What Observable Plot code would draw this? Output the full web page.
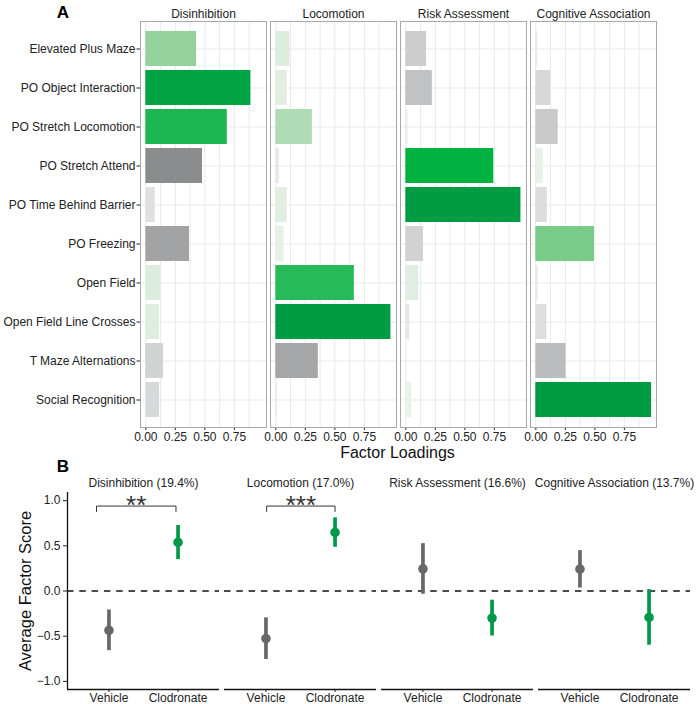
<!DOCTYPE html>
<html><head><meta charset="utf-8">
<script src="https://cdn.jsdelivr.net/npm/d3@7"></script>
<script src="https://cdn.jsdelivr.net/npm/@observablehq/plot@0.6"></script>
<style>
body{margin:0;background:#fff;font-family:"Liberation Sans",Arial,Helvetica,sans-serif;}
#chart{position:relative;width:700px;height:704px;overflow:hidden;background:#fff;}
#chart svg{overflow:visible;display:block;position:absolute;left:0;}
</style></head><body><div id="chart"></div>
<script>
// ---------- data ----------
const factors = ["Disinhibition", "Locomotion", "Risk Assessment", "Cognitive Association"];
const variancePct = [19.4, 17.0, 16.6, 13.7];
const tests = ["Elevated Plus Maze", "PO Object Interaction", "PO Stretch Locomotion", "PO Stretch Attend",
  "PO Time Behind Barrier", "PO Freezing", "Open Field", "Open Field Line Crosses", "T Maze Alternations", "Social Recognition"];
const disinhibitionLoadings = [0.43, 0.89, 0.69, -0.48, -0.08, -0.37, 0.125, 0.117, -0.15, -0.117];
const locomotionLoadings = [0.12, 0.097, 0.31, -0.03, 0.097, 0.07, 0.665, 0.975, -0.36, -0.015];
const riskAssessmentLoadings = [-0.176, -0.225, -0.017, 0.745, 0.975, -0.15, 0.11, -0.034, -0.005, 0.048];
const cognitiveAssociationLoadings = [-0.017, -0.125, -0.19, 0.063, -0.097, 0.497, -0.02, -0.094, -0.256, 0.98];
const loadingTicks = [0, 0.25, 0.5, 0.75];

const groups = ["Vehicle", "Clodronate"];
const vehicleMean = [-0.436, -0.527, 0.245, 0.242];
const vehicleLow = [-0.66, -0.758, -0.036, 0.033];
const vehicleHigh = [-0.21, -0.297, 0.524, 0.447];
const clodronateMean = [0.538, 0.648, -0.30, -0.293];
const clodronateLow = [0.348, 0.484, -0.498, -0.60];
const clodronateHigh = [0.725, 0.81, -0.102, 0.015];
const scoreTicks = [-1, -0.5, 0, 0.5, 1];

const sigFactors = ["Disinhibition", "Locomotion"];
const sigLabels = ["**", "***"];
const sigFrom = [0.82, 1.01];
const sigTo = [1.97, 2.0];
const sigTop = [0.94, 0.94];
const sigFoot = [0.88, 0.88];

// ---------- build tables ----------
const allLoadings = [disinhibitionLoadings, locomotionLoadings, riskAssessmentLoadings, cognitiveAssociationLoadings];
const posColor = d3.scaleLinear().domain([0, 0.12, 0.45, 0.75, 1])
  .range(["#f2f7f2", "#dcedde", "#8ed096", "#00b140", "#009a44"]).clamp(true);
const negColor = d3.scaleLinear().domain([0, 0.1, 0.48])
  .range(["#ececed", "#dcdddf", "#8a8c8e"]).clamp(true);
const loadRows = factors.flatMap((f, i) => tests.map((t, j) => {
  const v = allLoadings[i][j];
  return {factor: f, test: t, value: v, mag: Math.abs(v), color: v >= 0 ? posColor(v) : negColor(-v)};
}));

const scoreRows = factors.flatMap((f, i) => [
  {factor: f, group: groups[0], gx: 1, mean: vehicleMean[i], lo: vehicleLow[i], hi: vehicleHigh[i]},
  {factor: f, group: groups[1], gx: 2, mean: clodronateMean[i], lo: clodronateLow[i], hi: clodronateHigh[i]}
]);
const groupColor = {Vehicle: "#67686a", Clodronate: "#00994a"};
const sigRows = sigFactors.map((f, i) => ({factor: f, label: sigLabels[i], x1: sigFrom[i], x2: sigTo[i], top: sigTop[i], foot: sigFoot[i]}));
const bracketPts = sigRows.flatMap(s => [
  {factor: s.factor, x: s.x1, y: s.foot}, {factor: s.factor, x: s.x1, y: s.top},
  {factor: s.factor, x: s.x2, y: s.top}, {factor: s.factor, x: s.x2, y: s.foot}
]);

const font = '"Liberation Sans", Arial, Helvetica, sans-serif';

// ---------- panel A ----------
const plotA = Plot.plot({
  width: 700, height: 458,
  marginLeft: 139, marginRight: 44, marginTop: 21, marginBottom: 31,
  style: {fontFamily: font, fontSize: "12px", color: "#222", background: "transparent"},
  fx: {domain: factors, paddingInner: 0.034, paddingOuter: 0, axis: "top", label: null, tickSize: 0, tickPadding: 3.5},
  x: {domain: [-0.045, 1.022], ticks: loadingTicks, tickFormat: d3.format(".2f"), tickSize: 3, tickPadding: 1.5, label: null},
  y: {domain: tests, paddingInner: 0.1, paddingOuter: 0.15, tickSize: 3.5, tickPadding: 1.5, label: null},
  color: {type: "identity"},
  marks: [
    Plot.ruleX(d3.range(0, 8).map(k => k * 0.125), {stroke: "#e9e9e9", strokeWidth: 1}),
    Plot.ruleY(tests, {stroke: "#e9e9e9", strokeWidth: 1}),
    Plot.barX(loadRows, {fx: "factor", y: "test", x1: 0, x2: "mag", fill: "color"}),
    Plot.frame({stroke: "#a8a8a8", strokeWidth: 1})
  ]
});
plotA.style.top = "0px";

// ---------- panel B ----------
const plotB = Plot.plot({
  width: 700, height: 246,
  marginLeft: 65, marginRight: 8, marginTop: 34, marginBottom: 15,
  style: {fontFamily: font, fontSize: "12px", color: "#222", background: "transparent"},
  fx: {domain: factors, paddingInner: 0.0316, paddingOuter: 0, axis: "top", label: null, tickSize: 0, tickPadding: 6,
       tickFormat: f => `${f} (${variancePct[factors.indexOf(f)].toFixed(1)}%)`},
  x: {domain: [0.4, 2.6], ticks: [1, 2], tickFormat: d => groups[d - 1], tickSize: 3, tickPadding: 1, label: null},
  y: {domain: [-1.09, 1.09], ticks: scoreTicks, tickFormat: d3.format(".1f"), tickSize: 4, tickPadding: 3, label: null},
  marks: [
    Plot.ruleY([0], {stroke: "#111", strokeWidth: 1.6, strokeDasharray: "6.5,5.8"}),
    Plot.ruleY([-1.09], {stroke: "#111", strokeWidth: 1.3}),
    Plot.ruleX([{factor: factors[0], x: 0.4}], {fx: "factor", x: "x", stroke: "#111", strokeWidth: 1.3}),
    Plot.ruleX(scoreRows, {fx: "factor", x: "gx", y1: "lo", y2: "hi", stroke: d => groupColor[d.group], strokeWidth: 3.7}),
    Plot.dot(scoreRows, {fx: "factor", x: "gx", y: "mean", r: 4.8, fill: d => groupColor[d.group], stroke: "none"}),
    Plot.line(bracketPts, {fx: "factor", x: "x", y: "y", z: "factor", stroke: "#333", strokeWidth: 1}),
    Plot.text(sigRows, {fx: "factor", x: d => (d.x1 + d.x2) / 2, y: "top", text: "label", fontSize: 26, fill: "#333"})
  ]
});
plotB.style.top = "458px";

const chart = document.getElementById("chart");
chart.append(plotA, plotB);

// titles & panel letters
const sa = d3.select(plotA);
sa.append("text").attr("x", 63).attr("y", 17.5).attr("text-anchor", "middle")
  .attr("font-size", 17).attr("font-weight", "bold").attr("fill", "#000").attr("font-family", font).text("A");
sa.append("text").attr("x", 397.5).attr("y", 458).attr("text-anchor", "middle")
  .attr("font-size", 16).attr("fill", "#111").attr("font-family", font).text("Factor Loadings");
const sb = d3.select(plotB);
sb.append("text").attr("x", 63).attr("y", 13.5).attr("text-anchor", "middle")
  .attr("font-size", 17).attr("font-weight", "bold").attr("fill", "#000").attr("font-family", font).text("B");
sb.append("text").attr("transform", "translate(31,133) rotate(-90)").attr("text-anchor", "middle")
  .attr("font-size", 16.5).attr("fill", "#111").attr("font-family", font).text("Average Factor Score");
</script></body></html>
